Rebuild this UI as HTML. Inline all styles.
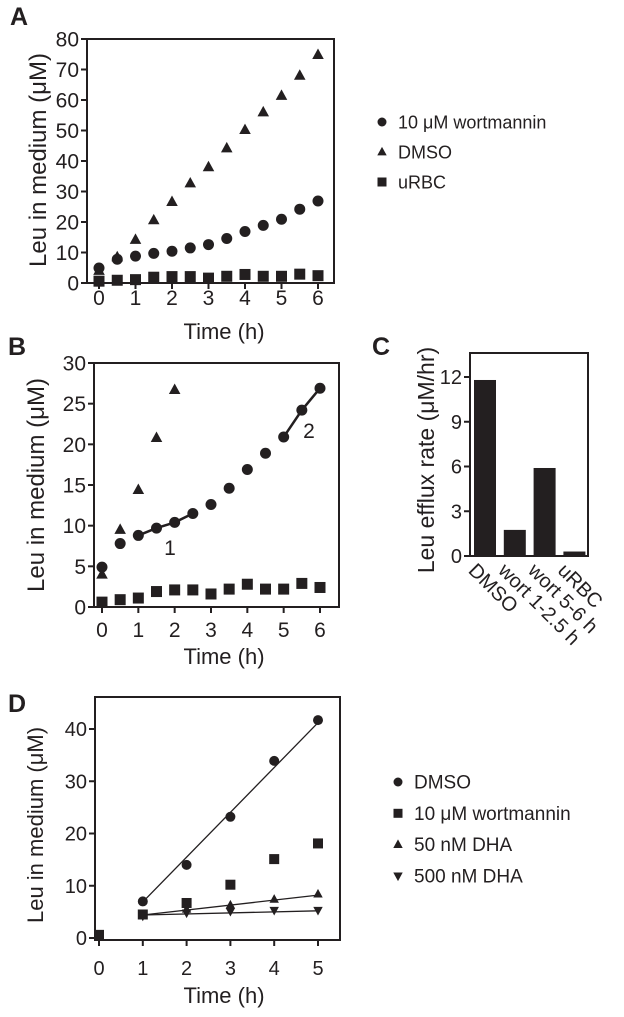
<!DOCTYPE html>
<html><head><meta charset="utf-8"><style>
body{margin:0;background:#fff}
svg{display:block;font-family:"Liberation Sans",sans-serif;fill:#231f20}
text{fill:#231f20}
</style></head><body>
<svg id="fig" width="624" height="1017" viewBox="0 0 624 1017" xmlns="http://www.w3.org/2000/svg"></svg>
<script>
// Panel A data
const aTimes=[0,0.5,1,1.5,2,2.5,3,3.5,4,4.5,5,5.5,6];
const aWort=[4.9,7.8,8.8,9.7,10.4,11.5,12.6,14.6,16.9,18.9,20.9,24.2,26.9];
const aDMSO=[4,8.5,14.2,20.6,26.6,32.7,38,44.2,50.2,56,61.4,68,74.8];
const aURBC=[0.6,0.9,1.1,1.9,2.1,2.1,1.6,2.2,2.8,2.2,2.2,2.9,2.4];
const aYTicks=[0,10,20,30,40,50,60,70,80];
const aXTicks=[0,1,2,3,4,5,6];
// Panel B data
const bDMSOTimes=[0,0.5,1,1.5,2];
const bDMSO=[4,9.5,14.4,20.8,26.7];
const bYTicks=[0,5,10,15,20,25,30];
// Panel C data
const cCats=["DMSO","wort 1-2.5 h","wort 5-6 h","uRBC"];
const cRates=[11.8,1.75,5.9,0.3];
const cYTicks=[0,3,6,9,12];
// Panel D data
const dTimes=[1,2,3,4,5];
const dDMSO=[7.0,14.0,23.2,33.9,41.7];
const dWortTimes=[0,1,2,3,4,5];
const dWort=[0.6,4.5,6.7,10.2,15.1,18.1];
const dDHA50=[4.3,5.5,6.3,7.4,8.4];
const dDHA500=[4.2,4.8,5.1,5.3,5.3];
const dFitDMSO=[6.9,41.2];
const dFit50=[4.4,8.2];
const dFit500=[4.4,5.2];
const dXTicks=[0,1,2,3,4,5];
const dYTicks=[0,10,20,30,40];

const NS="http://www.w3.org/2000/svg";
const svg=document.getElementById('fig');
function el(tag,attrs,parent,txt){const e=document.createElementNS(NS,tag);for(const k in attrs)e.setAttribute(k,attrs[k]);if(txt!==undefined)e.textContent=txt;(parent||svg).appendChild(e);return e;}
function lin(d0,d1,r0,r1){return v=>r0+(v-d0)*(r1-r0)/(d1-d0);}
function marker(g,type,x,y,s){
  let m;
  if(type==='circle'){m=el('circle',{cx:x,cy:y,r:s},g);}
  else if(type==='square'){m=el('rect',{x:x-s,y:y-s,width:2*s,height:2*s},g);}
  else if(type==='tri'){m=el('polygon',{points:`${x},${y-s*1.15} ${x-s*1.05},${y+s*0.75} ${x+s*1.05},${y+s*0.75}`},g);}
  else {m=el('polygon',{points:`${x},${y+s*1.15} ${x-s*1.05},${y-s*0.75} ${x+s*1.05},${y-s*0.75}`},g);}
  m.setAttribute('fill','#231f20');
  return m;
}
function panelLabel(t,x,y){const e=el('text',{x:x,y:y,'font-size':25,'font-weight':'bold'},svg,t);}
function axes(p){
  const g=el('g',{});
  const box=el('rect',{x:p.left,y:p.top,width:p.right-p.left,height:p.bottom-p.top,fill:'none',stroke:'#231f20','stroke-width':2},g);
  
  if(p.xTicks){p.xTicks.forEach(t=>{const x=p.sx(t);el('line',{x1:x,x2:x,y1:p.bottom,y2:p.bottom+6,stroke:'#231f20','stroke-width':2},g);
    const tx=el('text',{x:x,y:p.bottom+p.xoff,'text-anchor':'middle','font-size':p.fs},g,t);});}
  p.yTicks.forEach(t=>{const y=p.sy(t);el('line',{x1:p.left-6,x2:p.left,y1:y,y2:y,stroke:'#231f20','stroke-width':2},g);
    const ty=el('text',{x:p.left-8,y:y+p.fs*0.36,'text-anchor':'end','font-size':p.fs},g,t);});
  if(p.xTitle){const xt=el('text',{x:p.xtx,y:p.xty,'text-anchor':'middle','font-size':22},g,p.xTitle);}
  const yt=el('text',{x:0,y:0,'text-anchor':'middle','font-size':p.yfs,transform:`translate(${p.ytx},${p.yty}) rotate(-90)`},g,p.yTitle);
  
  return g;
}
function series(g,name,type,xs,ys,sx,sy,s){const sg=el('g',{},g);
  xs.forEach((x,i)=>{const m=marker(sg,type,sx(x),sy(ys[i]),s);});}
function legend(items,x,y0,dy,fs){const g=el('g',{});
  items.forEach((it,i)=>{const y=y0+i*dy;const eg=el('g',{},g);
    marker(eg,it[1],x,y,4.5);el('text',{x:x+16,y:y+6.5,'font-size':fs},eg,it[0]);});}

// Panel A
panelLabel('A',10,25);
{const sx=lin(0,6,99,318),sy=lin(0,80,283,39);
 const g=axes({name:'panel-a-chart',left:87,right:334,top:39,bottom:283,sx,sy,xTicks:aXTicks,yTicks:aYTicks,fs:21,xoff:22,xTitle:'Time (h)',xtx:224,xty:339,yTitle:'Leu in medium (μM)',yfs:24,ytx:46,yty:160});
 series(g,'series-dmso','tri',aTimes,aDMSO,sx,sy,5.5);
 series(g,'series-wortmannin','circle',aTimes,aWort,sx,sy,5.5);
 series(g,'series-urbc','square',aTimes,aURBC,sx,sy,5.5);}
legend([['10 μM wortmannin','circle'],['DMSO','tri'],['uRBC','square']],382,122,30,18);

// Panel B
panelLabel('B',8,355);
{const sx=lin(0,6,102,320),sy=lin(0,30,607,363);
 const g=axes({name:'panel-b-chart',left:94,right:339,top:363,bottom:607,sx,sy,xTicks:aXTicks,yTicks:bYTicks,fs:21,xoff:30,xTitle:'Time (h)',xtx:224,xty:664,yTitle:'Leu in medium (μM)',yfs:24,ytx:44,yty:485});
 const seg1=aTimes.slice(2,6),seg1v=aWort.slice(2,6),seg2=aTimes.slice(10),seg2v=aWort.slice(10);
 const l1=el('polyline',{points:seg1.map((t,i)=>sx(t)+','+sy(seg1v[i])).join(' '),fill:'none',stroke:'#231f20','stroke-width':2.5},g);
 const l2=el('polyline',{points:seg2.map((t,i)=>sx(t)+','+sy(seg2v[i])).join(' '),fill:'none',stroke:'#231f20','stroke-width':2.5},g);
 series(g,'series-dmso','tri',bDMSOTimes,bDMSO,sx,sy,5.5);
 series(g,'series-wortmannin','circle',aTimes,aWort,sx,sy,5.5);
 series(g,'series-urbc','square',aTimes,aURBC,sx,sy,5.5);
 const t1=el('text',{x:170,y:555,'text-anchor':'middle','font-size':21},g,'1');
 const t2=el('text',{x:309,y:438,'text-anchor':'middle','font-size':21},g,'2');}

// Panel C
panelLabel('C',372,355);
{const sy=lin(0,12,556,377);
 const g=axes({name:'panel-c-chart',left:470,right:588,top:353,bottom:556,sy,yTicks:cYTicks,fs:20,yTitle:'Leu efflux rate (μM/hr)',yfs:23,ytx:434,yty:460});
 const bw=22,step=29.8,x0=474;
 cCats.forEach((c,i)=>{const x=x0+i*step;const b=el('rect',{x:x,y:sy(cRates[i]),width:bw,height:sy(0)-sy(cRates[i]),fill:'#231f20'},g);
   
   const t=el('text',{x:0,y:0,'font-size':20,'dominant-baseline':'hanging',transform:`translate(${x+3},${562}) rotate(45)`},g,c);
   });}

// Panel D
panelLabel('D',8,712);
{const sx=lin(0,5,99,318),sy=lin(0,40,938,729);
 const g=axes({name:'panel-d-chart',left:95,right:340,top:697,bottom:940,sx,sy,xTicks:dXTicks,yTicks:dYTicks,fs:20,xoff:35,xTitle:'Time (h)',xtx:224,xty:1003,yTitle:'Leu in medium (μM)',yfs:22,ytx:43,yty:825});
 [[dFitDMSO,'fit-line-dmso'],[dFit50,'fit-line-50nm-dha'],[dFit500,'fit-line-500nm-dha']].forEach(f=>{
   const l=el('line',{x1:sx(dTimes[0]),y1:sy(f[0][0]),x2:sx(dTimes[dTimes.length-1]),y2:sy(f[0][1]),stroke:'#231f20','stroke-width':1.3},g);
   });
 series(g,'series-dmso','circle',dTimes,dDMSO,sx,sy,5);
 series(g,'series-wortmannin','square',dWortTimes,dWort,sx,sy,5);
 series(g,'series-50nm-dha','tri',dTimes,dDHA50,sx,sy,4.5);
 series(g,'series-500nm-dha','invtri',dTimes,dDHA500,sx,sy,4.5);}
legend([['DMSO','circle'],['10 μM wortmannin','square'],['50 nM DHA','tri'],['500 nM DHA','invtri']],398,782,31.3,19);
</script>
</body></html>
